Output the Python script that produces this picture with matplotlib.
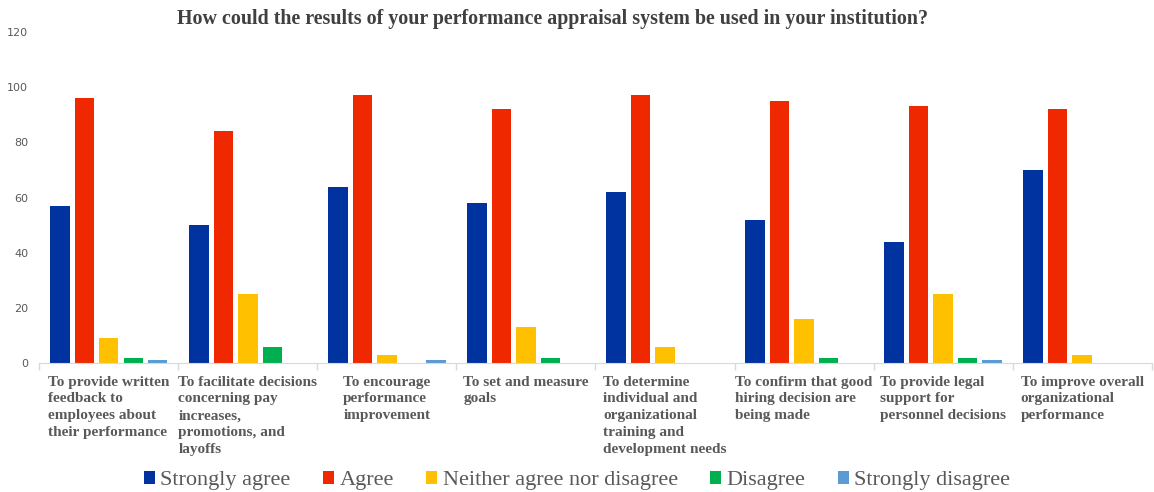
import numpy as np
import matplotlib
matplotlib.use("Agg")
from matplotlib import pyplot as plt

## data ##

categories = [
    "To provide written\nfeedback to\nemployees about\ntheir performance",
    "To facilitate decisions\nconcerning pay\nincreases,\npromotions, and\nlayoffs",
    "To encourage\nperformance\nimprovement",
    "To set and measure\ngoals",
    "To determine\nindividual and\norganizational\ntraining and\ndevelopment needs",
    "To confirm that good\nhiring decision are\nbeing made",
    "To provide legal\nsupport for\npersonnel decisions",
    "To improve overall\norganizational\nperformance",
]

strongly_agree = [57, 50, 64, 58, 62, 52, 44, 70]
agree = [96, 84, 97, 92, 97, 95, 93, 92]
neither = [9, 25, 3, 13, 6, 16, 25, 3]
disagree = [2, 6, 0, 2, 0, 2, 2, 0]
strongly_disagree = [1, 0, 1, 0, 0, 0, 1, 0]

series_names = ["Strongly agree", "Agree", "Neither agree nor disagree",
                "Disagree", "Strongly disagree"]
series_colors = ["#0033A0", "#F02800", "#FFC000", "#00B050", "#5B9BD5"]

## plot ##

fig = plt.figure(figsize=(11.54, 4.92), dpi=100)
ax = fig.add_axes([0.034, 0.262, 0.964, 0.673])

x = np.arange(len(categories))
step = 0.176
width = 0.14
all_series = [strongly_agree, agree, neither, disagree, strongly_disagree]
for i, (vals, name, col) in enumerate(zip(all_series, series_names, series_colors)):
    ax.bar(x + (i - 2) * step, vals, width, color=col, label=name, zorder=2)

ax.set_xlim(-0.5, len(categories) - 0.5)
ax.set_ylim(0, 120)
ax.set_yticks(range(0, 121, 20))
ax.tick_params(axis="y", length=0, labelsize=8, labelcolor="#595959", pad=8)

ax.set_xticks(x)
ax.set_xticklabels(categories, fontfamily="Liberation Serif", fontweight="bold",
                   fontsize=11, color="#595959", linespacing=1.38)
for t in ax.get_xticklabels():
    t.set_multialignment("left")
ax.tick_params(axis="x", which="major", length=0, pad=9)
ax.set_xticks(np.arange(-0.5, len(categories)), minor=True)
ax.tick_params(axis="x", which="minor", length=5, color="#D9D9D9", width=1)

for s in ["top", "right", "left"]:
    ax.spines[s].set_visible(False)
ax.spines["bottom"].set_color("#D9D9D9")

fig.text(0.479, 0.962, "How could the results of your performance appraisal system be used in your institution?",
         ha="center", va="center", fontfamily="Liberation Serif", fontweight="bold",
         fontsize=14.4, color="#404040")

leg = fig.legend(loc="lower center", bbox_to_anchor=(0.5, -0.037), ncol=5, frameon=False,
                 prop={"family": "Liberation Serif", "size": 16},
                 handlelength=0.5, handleheight=0.5, handletextpad=0.25,
                 columnspacing=1.45)
for t in leg.get_texts():
    t.set_color("#595959")

plt.savefig("out.png", dpi=100)
plt.close()
